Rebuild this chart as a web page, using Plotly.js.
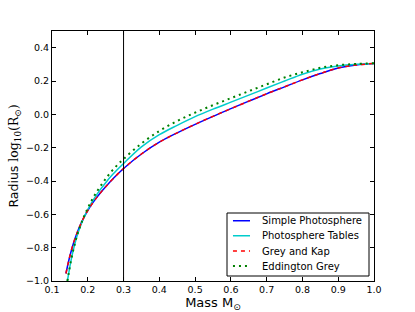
<!DOCTYPE html>
<html>
<head>
<meta charset="utf-8">
<script src="https://cdn.plot.ly/plotly-3.0.1.min.js"></script>
<style>html,body{margin:0;padding:0;background:#fff;}#chart{width:415px;height:312px;}</style>
</head>
<body>
<div id="chart"></div>
<script>
// Simple Photosphere (and Grey and Kap, which overlaps it)
const massSimple = [0.139,0.145,0.15,0.16,0.17,0.18,0.19,0.2,0.21,0.22,0.235,0.25,0.27,0.3,0.35,0.4,0.45,0.5,0.55,0.6,0.65,0.7,0.75,0.8,0.85,0.9,0.95,1.0];
const radSimple  = [-0.955,-0.895,-0.85,-0.773,-0.712,-0.66,-0.615,-0.577,-0.543,-0.513,-0.472,-0.434,-0.388,-0.325,-0.238,-0.167,-0.111,-0.06,-0.012,0.034,0.079,0.123,0.165,0.207,0.245,0.278,0.296,0.305];
const massGrey = massSimple;
const radGrey  = radSimple;
// Photosphere Tables
const massTables = [0.143,0.147,0.152,0.16,0.17,0.18,0.19,0.2,0.21,0.22,0.235,0.25,0.27,0.3,0.35,0.4,0.45,0.5,0.55,0.6,0.65,0.7,0.75,0.8,0.85,0.9,0.95,1.0];
const radTables  = [-1.0,-0.95,-0.89,-0.81,-0.73,-0.668,-0.616,-0.572,-0.533,-0.498,-0.452,-0.41,-0.36,-0.295,-0.195,-0.122,-0.066,-0.014,0.031,0.073,0.115,0.158,0.2,0.241,0.272,0.29,0.3,0.305];
// Eddington Grey
const massEdd = [0.143,0.147,0.152,0.16,0.17,0.18,0.19,0.2,0.21,0.22,0.235,0.25,0.27,0.3,0.35,0.4,0.45,0.5,0.55,0.6,0.65,0.7,0.75,0.8,0.85,0.9,0.95,1.0];
const radEdd  = [-1.0,-0.95,-0.89,-0.81,-0.728,-0.664,-0.61,-0.563,-0.52,-0.482,-0.432,-0.387,-0.333,-0.268,-0.175,-0.1,-0.04,0.01,0.055,0.097,0.139,0.18,0.221,0.252,0.279,0.295,0.302,0.307];
const markerMass = 0.3;
const xTicks = [0.1,0.2,0.3,0.4,0.5,0.6,0.7,0.8,0.9,1.0];
const yTicks = [-1.0,-0.8,-0.6,-0.4,-0.2,0.0,0.2,0.4];
const seriesNames = ['Simple Photosphere','Photosphere Tables','Grey and Kap','Eddington Grey'];
const seriesColors = ['#0000ff','#00cccc','#ff0000','#008000'];
const seriesDash = ['solid','solid','4px,4px','2px,4px'];
const seriesWidth = [1.5, 1.5, 1.5, 2];

const xs = [massSimple, massTables, massGrey, massEdd];
const ys = [radSimple, radTables, radGrey, radEdd];
const traces = seriesNames.map((n, i) => ({
  x: xs[i], y: ys[i], name: n, mode: 'lines', showlegend: false,
  line: {color: seriesColors[i], width: seriesWidth[i], dash: seriesDash[i], shape: 'spline', smoothing: 1}
}));

const axisCommon = {
  showgrid: false, zeroline: false, showline: true, linecolor: '#000', linewidth: 1,
  mirror: 'allticks', ticks: 'inside', ticklen: 4, tickcolor: '#000', tickwidth: 1,
  tickfont: {family: 'DejaVu Sans', size: 9.5, color: '#000'}, tickformat: '.1f'
};

// legend drawn as shapes + annotations in paper coordinates
const legX0 = 0.5435, legX1 = 0.9845, legY0 = 0.02, legY1 = 0.272;
const entryY = [0.241, 0.181, 0.12, 0.06];
const shapes = [
  {type: 'line', xref: 'x', yref: 'paper', x0: markerMass, x1: markerMass, y0: 0, y1: 1, line: {color: '#000', width: 1}},
  {type: 'rect', xref: 'paper', yref: 'paper', x0: legX0, x1: legX1, y0: legY0, y1: legY1, fillcolor: '#fff', line: {color: '#000', width: 1}, layer: 'above'}
];
const annotations = [];
seriesNames.forEach((n, i) => {
  shapes.push({type: 'line', xref: 'paper', yref: 'paper', x0: 0.562, x1: 0.615, y0: entryY[i], y1: entryY[i],
    line: {color: seriesColors[i], width: seriesWidth[i], dash: seriesDash[i]}, layer: 'above'});
  annotations.push({xref: 'paper', yref: 'paper', x: 0.646, y: entryY[i], text: n, showarrow: false,
    xanchor: 'left', yanchor: 'middle', font: {family: 'DejaVu Sans', size: 10, color: '#000'}});
});

const layout = {
  width: 415, height: 312,
  margin: {l: 52, r: 41, t: 31, b: 31},
  paper_bgcolor: '#fff', plot_bgcolor: '#fff',
  showlegend: false,
  xaxis: Object.assign({}, axisCommon, {range: [0.1, 1.0], tickvals: xTicks,
    title: {text: 'Mass M<sub>⊙</sub>', font: {family: 'DejaVu Sans', size: 13, color: '#000'}, standoff: 2}}),
  yaxis: Object.assign({}, axisCommon, {range: [-1.0, 0.5], tickvals: yTicks,
    title: {text: 'Radius <span style="font-family:DejaVu Serif">log<sub>10</sub>(R<sub>⊙</sub>)</span>', font: {family: 'DejaVu Sans', size: 12.5, color: '#000'}, standoff: 4}}),
  shapes: shapes,
  annotations: annotations
};

Plotly.newPlot('chart', traces, layout, {displayModeBar: false, staticPlot: true});
</script>
</body>
</html>
